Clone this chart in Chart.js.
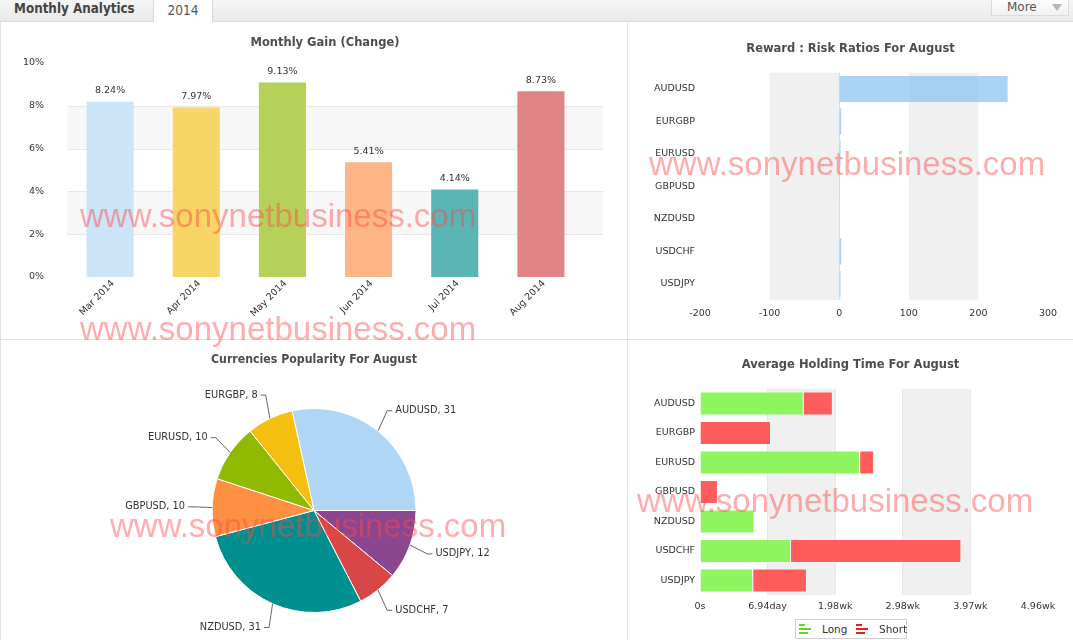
<!DOCTYPE html>
<html>
<head>
<meta charset="utf-8">
<script src="https://cdn.jsdelivr.net/npm/chart.js@4.4.1/dist/chart.umd.min.js"></script>
<style>
html, body { margin: 0; padding: 0; background: #fff; }
body { width: 1073px; height: 640px; position: relative; overflow: hidden; font-family: "DejaVu Sans", Verdana, sans-serif; }
#head { position: absolute; left: 0; top: 0; width: 1073px; height: 21px; background: linear-gradient(#f6f6f6, #e9e9e9); border-bottom: 1px solid #dadada; }
#head .title { position: absolute; left: 14px; top: 1px; font: bold 13.3px "DejaVu Sans Condensed", "DejaVu Sans", sans-serif; color: #444; }
#head .tab { position: absolute; left: 153px; top: 0; width: 58px; height: 22px; background: #fff; border-left: 1px solid #dadada; border-right: 1px solid #dadada; text-align: center; font: 13.5px "DejaVu Sans Condensed", "DejaVu Sans", sans-serif; color: #555; line-height: 20px; }
#head .more { position: absolute; left: 991px; top: -1px; width: 76px; height: 15px; background: linear-gradient(#fdfdfd, #f1f1f1); border: 1px solid #dcdcdc; font: 12px "DejaVu Sans", sans-serif; color: #555; line-height: 15px; }
#head .more span { position: absolute; left: 15px; top: 0; }
#head .more i { position: absolute; left: 60px; top: 4px; width: 0; height: 0; border-left: 5px solid transparent; border-right: 5px solid transparent; border-top: 7px solid #b5b5b5; }
.vline { position: absolute; left: 627px; top: 22px; width: 1px; height: 618px; background: #e2e2e2; }
.hline { position: absolute; left: 0; top: 339px; width: 1073px; height: 1px; background: #e2e2e2; }
.lline { position: absolute; left: 0; top: 22px; width: 1px; height: 618px; background: #e2e2e2; }
canvas { position: absolute; }
#c1 { left: 1px; top: 22px; }
#c2 { left: 628px; top: 22px; }
#c3 { left: 1px; top: 340px; }
#c4 { left: 628px; top: 340px; }
#legend { position: absolute; left: 795px; top: 619px; width: 110px; height: 18px; border: 1px solid #cfcfcf; background: #fff; font: 10.5px "DejaVu Sans", sans-serif; color: #333; }
#legend .item { position: absolute; top: 3px; line-height: 12px; }
#legend .ico { position: absolute; top: 1px; left: 0; width: 13px; height: 10px; }
#legend .ico b { position: absolute; left: 0; height: 2px; display: block; }
#legend .lbl { position: absolute; left: 23px; top: 0; white-space: nowrap; }
.wm { position: absolute; font: 33px "Liberation Sans", Arial, sans-serif; line-height: 33px; color: rgba(255, 70, 70, 0.45); white-space: nowrap; pointer-events: none; }
</style>
</head>
<body>
<div id="head">
  <div class="title">Monthly Analytics</div>
  <div class="tab">2014</div>
  <div class="more"><span>More</span><i></i></div>
</div>
<div class="lline"></div>
<div class="vline"></div>
<div class="hline"></div>

<canvas id="c1" width="626" height="316"></canvas>
<canvas id="c2" width="445" height="316"></canvas>
<canvas id="c3" width="626" height="300"></canvas>
<canvas id="c4" width="445" height="300"></canvas>

<div id="legend">
  <div class="item" style="left:3px">
    <div class="ico"><b style="top:0;width:6px;background:#5ed62e"></b><b style="top:4px;width:12px;background:#5ed62e"></b><b style="top:8px;width:9px;background:#5ed62e"></b></div>
    <div class="lbl">Long</div>
  </div>
  <div class="item" style="left:60px">
    <div class="ico"><b style="top:0;width:6px;background:#e61e1e"></b><b style="top:4px;width:12px;background:#e61e1e"></b><b style="top:8px;width:9px;background:#e61e1e"></b></div>
    <div class="lbl">Short</div>
  </div>
</div>

<div class="wm" style="left:80px;top:199px">www.sonynetbusiness.com</div>
<div class="wm" style="left:80px;top:312px">www.sonynetbusiness.com</div>
<div class="wm" style="left:649px;top:147px">www.sonynetbusiness.com</div>
<div class="wm" style="left:110px;top:509px">www.sonynetbusiness.com</div>
<div class="wm" style="left:637px;top:484px">www.sonynetbusiness.com</div>

<script>
// ---- data ----
var gainMonths = ['Mar 2014', 'Apr 2014', 'May 2014', 'Jun 2014', 'Jul 2014', 'Aug 2014'];
var gainValues = [8.24, 7.97, 9.13, 5.41, 4.14, 8.73];
var gainColors = ['#cbe4f7', '#f7d566', '#b5d15a', '#ffb585', '#5bb5b4', '#e08485'];

var pairs = ['AUDUSD', 'EURGBP', 'EURUSD', 'GBPUSD', 'NZDUSD', 'USDCHF', 'USDJPY'];
var rewardRisk = [242, 2.9, 2, 1, 0, 2.9, 2];

// pie slices in clockwise order as drawn
var popPairs = ['AUDUSD', 'USDJPY', 'USDCHF', 'NZDUSD', 'GBPUSD', 'EURUSD', 'EURGBP'];
var popCounts = [31, 12, 7, 31, 10, 10, 8];
var popColors = ['#b0d6f5', '#8b468f', '#d94646', '#008f8f', '#ff8f42', '#8fba00', '#f5bf0f'];

// average holding time, seconds
var holdLong = [920000, 4000, 1421000, 0, 484000, 808000, 472000];
var holdShort = [259000, 626000, 124000, 159000, 0, 1512000, 477000];

var FONT = '"DejaVu Sans", Verdana, sans-serif';
var TXT = '#333';

function titleOpts(text, cy, areaTop) {
  var size = 11.5, h = size * 1.2;
  return {
    display: true, text: text, color: '#4d4d4d',
    font: { family: FONT, size: size, weight: 'bold' },
    padding: { top: cy - h / 2, bottom: areaTop - cy - h / 2 }
  };
}

// empty right-hand axis used only as spacing, so the title centres over the whole panel
function spacerAxis(w) {
  return {
    type: 'linear', axis: 'y', position: 'right', display: true,
    grid: { display: false, drawTicks: false }, border: { display: false },
    ticks: { display: false },
    afterFit: function(s) { s.width = w; }
  };
}

// shaded bands between axis values (with edge lines)
var bandPlugin = {
  id: 'bands',
  beforeDraw: function(chart, args, opts) {
    if (!opts.ranges) return;
    var sc = chart.scales[opts.axis], a = chart.chartArea, ctx = chart.ctx;
    var ext = opts.extendRight || 0;
    ctx.save();
    opts.ranges.forEach(function(r) {
      var p1 = sc.getPixelForValue(r[0]), p2 = sc.getPixelForValue(r[1]);
      ctx.fillStyle = opts.color;
      if (sc.isHorizontal()) {
        ctx.fillRect(p1, a.top, p2 - p1, a.bottom - a.top);
      } else {
        ctx.fillRect(a.left, p2, a.right - a.left + ext, p1 - p2);
        if (opts.lineColor) {
          ctx.fillStyle = opts.lineColor;
          ctx.fillRect(a.left, Math.round(p1), a.right - a.left + ext, 1);
          ctx.fillRect(a.left, Math.round(p2), a.right - a.left + ext, 1);
        }
      }
    });
    ctx.restore();
  }
};
Chart.register(bandPlugin);

Chart.defaults.font.family = FONT;
Chart.defaults.color = TXT;
Chart.defaults.animation = false;
Chart.defaults.responsive = false;
Chart.defaults.plugins.legend.display = false;
Chart.defaults.plugins.tooltip.enabled = false;

// ---- Monthly Gain ----
var valueLabels = {
  id: 'valueLabels',
  afterDatasetsDraw: function(chart) {
    var ctx = chart.ctx, meta = chart.getDatasetMeta(0);
    ctx.save();
    ctx.font = '9.5px ' + FONT;
    ctx.fillStyle = TXT;
    ctx.textAlign = 'center';
    ctx.textBaseline = 'middle';
    meta.data.forEach(function(bar, i) {
      ctx.fillText(gainValues[i].toFixed(2) + '%', bar.x, bar.y - 10);
    });
    ctx.restore();
  }
};

new Chart(document.getElementById('c1'), {
  type: 'bar',
  data: {
    labels: gainMonths,
    datasets: [{
      data: gainValues,
      backgroundColor: gainColors,
      borderColor: 'rgba(255,255,255,0.3)',
      borderWidth: 1,
      barPercentage: 0.57,
      categoryPercentage: 1
    }]
  },
  options: {
    layout: { padding: { left: 22, right: 0, bottom: 0, top: 0 } },
    plugins: {
      title: titleOpts('Monthly Gain (Change)', 21, 41),
      bands: { axis: 'y', ranges: [[2, 4], [6, 8]], color: '#f7f7f7', lineColor: '#e8e8e8', extendRight: 19 }
    },
    scales: {
      x: {
        grid: { display: false, drawTicks: false }, border: { display: false },
        ticks: { autoSkip: false, minRotation: 45, maxRotation: 45, padding: 1, labelOffset: 3, font: { size: 9.5 } },
        afterFit: function(s) { s.height = 61; }
      },
      y: {
        min: 0, max: 10,
        border: { display: false },
        grid: { display: false, drawTicks: false },
        ticks: { stepSize: 2, padding: 23, font: { size: 9.5 }, callback: function(v) { return v + '%'; } },
        afterFit: function(s) { s.width = 44; }
      },
      pad: spacerAxis(43)
    }
  },
  plugins: [valueLabels]
});

// ---- Reward : Risk ----
new Chart(document.getElementById('c2'), {
  type: 'bar',
  data: {
    labels: pairs,
    datasets: [{
      data: rewardRisk,
      backgroundColor: 'rgba(140,198,243,0.75)',
      barPercentage: 0.8,
      categoryPercentage: 1
    }]
  },
  options: {
    indexAxis: 'y',
    layout: { padding: { left: 0, right: 0, top: 0, bottom: 0 } },
    plugins: {
      title: titleOpts('Reward : Risk Ratios For August', 27, 50.75),
      bands: { axis: 'x', ranges: [[-100, 0], [100, 200]], color: '#f0f0f0' }
    },
    scales: {
      x: {
        min: -200, max: 300,
        border: { display: false },
        grid: { drawTicks: false, color: function(c) { return c.tick.value === 0 ? '#dedede' : 'rgba(0,0,0,0)'; } },
        ticks: { stepSize: 100, padding: 8, font: { size: 9.5 } },
        afterFit: function(s) { s.height = 316 - 278.25; }
      },
      y: {
        grid: { display: false, drawTicks: false }, border: { display: false },
        ticks: { padding: 5, font: { size: 9.5 } },
        afterFit: function(s) { s.width = 72; }
      },
      pad: spacerAxis(25)
    }
  }
});

// ---- Currencies Popularity ----
var pieLabels = {
  id: 'pieLabels',
  afterDatasetsDraw: function(chart) {
    var ctx = chart.ctx, meta = chart.getDatasetMeta(0);
    ctx.save();
    ctx.font = '9.8px ' + FONT;
    ctx.textBaseline = 'middle';
    meta.data.forEach(function(arc, i) {
      var p = arc.getProps(['x', 'y', 'startAngle', 'endAngle', 'outerRadius'], true);
      var a = (p.startAngle + p.endAngle) / 2;
      var c = Math.cos(a), s = Math.sin(a);
      var dir = c >= 0 ? 1 : -1;
      var r = p.outerRadius;
      var lx = p.x + (r + 26) * c, ly = p.y + (r + 26) * s;
      ctx.strokeStyle = '#666';
      ctx.lineWidth = 1;
      ctx.beginPath();
      ctx.moveTo(lx - dir * 2, ly);
      ctx.lineTo(lx - dir * 7, ly);
      ctx.lineTo(p.x + r * c, p.y + r * s);
      ctx.stroke();
      ctx.fillStyle = TXT;
      ctx.textAlign = dir > 0 ? 'left' : 'right';
      ctx.fillText(popPairs[i] + ', ' + popCounts[i], lx + dir, ly);
    });
    ctx.restore();
  }
};

var popTotal = popCounts.reduce(function(a, b) { return a + b; }, 0);
new Chart(document.getElementById('c3'), {
  type: 'pie',
  data: {
    labels: popPairs,
    datasets: [{ data: popCounts, backgroundColor: popColors, borderColor: '#ffffff', borderWidth: 1 }]
  },
  options: {
    rotation: 90 - 360 * popCounts[0] / popTotal,
    layout: { padding: { left: 210, right: 210, top: 0, bottom: 27 } },
    plugins: { title: titleOpts('Currencies Popularity For August', 20, 68) }
  },
  plugins: [pieLabels]
});

// ---- Average Holding Time ----
function fmtDuration(sec) {
  if (sec === 0) return '0s';
  var d = sec / 86400;
  if (d < 7) return d.toFixed(2) + 'day';
  return (sec / 604800).toFixed(2) + 'wk';
}

new Chart(document.getElementById('c4'), {
  type: 'bar',
  data: {
    labels: pairs,
    datasets: [
      { label: 'Long', data: holdLong, backgroundColor: '#8ef55f', borderColor: 'rgba(255,255,255,0.35)', borderWidth: 1, barPercentage: 0.82, categoryPercentage: 1 },
      { label: 'Short', data: holdShort, backgroundColor: '#ff5c5c', borderColor: 'rgba(255,255,255,0.35)', borderWidth: 1, barPercentage: 0.82, categoryPercentage: 1 }
    ]
  },
  options: {
    indexAxis: 'y',
    layout: { padding: { left: 0, right: 0, top: 0, bottom: 0 } },
    plugins: {
      title: titleOpts('Average Holding Time For August', 25, 48.75),
      bands: { axis: 'x', ranges: [[600000, 1200000], [1800000, 2400000]], color: '#f0f0f0' }
    },
    scales: {
      x: {
        stacked: true, min: 0, max: 3000000,
        border: { display: false },
        grid: { drawTicks: false, color: function(c) { return (c.tick.value > 0 && c.tick.value < 3000000) ? '#e6e6e6' : 'rgba(0,0,0,0)'; } },
        ticks: { stepSize: 600000, padding: 6, font: { size: 9.5 }, callback: fmtDuration },
        afterFit: function(s) { s.height = 300 - 255.25; }
      },
      y: {
        stacked: true,
        grid: { display: false, drawTicks: false }, border: { display: false },
        ticks: { padding: 5, font: { size: 9.5 } },
        afterFit: function(s) { s.width = 72; }
      },
      pad: spacerAxis(35)
    }
  }
});
</script>
</body>
</html>
